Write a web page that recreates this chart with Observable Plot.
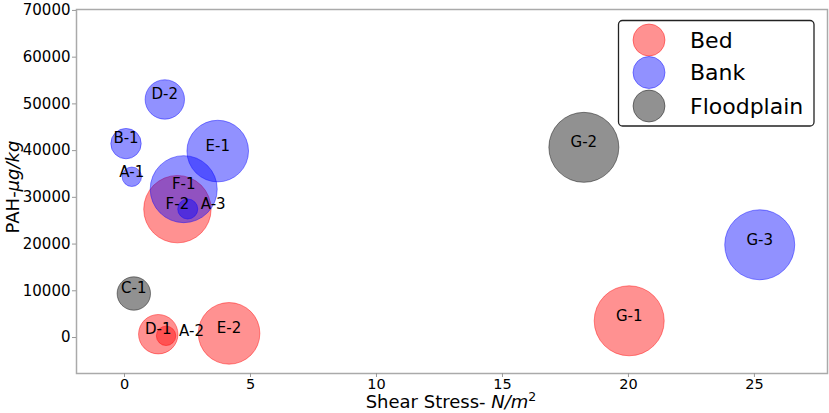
<!DOCTYPE html>
<html><head><meta charset="utf-8">
<script src="https://cdn.jsdelivr.net/npm/d3@7"></script>
<script src="https://cdn.jsdelivr.net/npm/@observablehq/plot@0.6"></script>
<style>body{margin:0;background:#fff;} svg{font-family:"DejaVu Sans",sans-serif;}</style>
</head><body><div id="chart"></div>
<script>
// Data
const categories = ["Bed", "Bank", "Floodplain"];
const sites = ["A-1","A-2","A-3","B-1","C-1","D-1","D-2","E-1","E-2","F-1","F-2","G-1","G-2","G-3"];
const siteTypes = ["Bank","Bed","Bank","Bank","Floodplain","Bed","Bank","Bank","Bed","Bank","Bed","Bed","Floodplain","Bank"];
const shearStress = [0.29,1.65,2.51,0.06,0.37,1.34,1.60,3.70,4.15,2.35,2.10,20.03,18.23,25.21];
const pahValues = [34400,360,27500,41500,9420,710,50950,39900,890,31750,27470,3580,40700,19850];
const bubbleSize = [94,94,100,231,279,388,388,949,949,1122,1135,1225,1225,1225];
const xTicks = [0,5,10,15,20,25];
const yTicks = [0,10000,20000,30000,40000,50000,60000,70000];

const categoryColors = ["red","blue","black"];
const rightLabels = new Set(["A-2","A-3"]);

const data = sites.map((s,i) => ({site:s, type:siteTypes[i], shear:shearStress[i], pah:pahValues[i], size:bubbleSize[i]}));

const plot = Plot.plot({
  width: 829, height: 413,
  marginLeft: 76, marginRight: 2, marginTop: 9, marginBottom: 40,
  style: {fontFamily: "DejaVu Sans, sans-serif", fontSize: "15px", background: "white", color: "black", overflow: "visible"},
  x: {domain: [-1.905, 27.9]},
  y: {domain: [-7700, 70200]},
  r: {type: "sqrt", domain: [0, 1225], range: [0, 35]},
  color: {domain: categories, range: categoryColors},
  marks: [
    Plot.frame({stroke: "#aaa", strokeWidth: 1.5}),
    Plot.axisX({ticks: xTicks, tickSize: 4, tickPadding: 1, stroke: "#999", fill: "black", label: null, fontSize: 14.5}),
    Plot.axisY({ticks: yTicks, tickSize: 4, tickPadding: 2, stroke: "#999", fill: "black", label: null, fontSize: 15, tickFormat: d => String(d)}),
    Plot.dot(data, {x: "shear", y: "pah", r: "size", fill: "type", stroke: "type", fillOpacity: 0.43, strokeOpacity: 0.43, strokeWidth: 1}),
    Plot.text(data, {filter: d => !rightLabels.has(d.site), x: "shear", y: "pah", text: "site", dy: -5, fontSize: 15, fill: "black"}),
    Plot.text(data, {filter: d => rightLabels.has(d.site), x: "shear", y: "pah", text: "site", dy: -5, dx: 13, textAnchor: "start", fontSize: 15, fill: "black"})
  ]
});
document.getElementById("chart").appendChild(plot);

const svg = d3.select(plot);
// Axis labels
const xl = svg.append("text").attr("x", 451).attr("y", 408).attr("text-anchor", "middle")
  .attr("font-size", 18).attr("fill", "black");
xl.append("tspan").text("Shear Stress- ");
xl.append("tspan").attr("font-style", "italic").text("N/m");
xl.append("tspan").attr("font-size", 12.5).attr("dy", -7).attr("font-style", "normal").text("2");

const yl = svg.append("text").attr("transform", "translate(19,187) rotate(-90)").attr("text-anchor", "middle")
  .attr("font-size", 18).attr("fill", "black");
yl.append("tspan").text("PAH-");
yl.append("tspan").attr("font-style", "italic").text("μg/kg");

// Legend
const lg = svg.append("g");
lg.append("rect").attr("x", 618.5).attr("y", 20.5).attr("width", 195.5).attr("height", 105.5)
  .attr("rx", 4).attr("fill", "white").attr("fill-opacity", 0.8).attr("stroke", "#222").attr("stroke-width", 1.3);
const rowY = [40, 72.5, 106];
categories.forEach((c, i) => {
  lg.append("circle").attr("cx", 649).attr("cy", rowY[i]).attr("r", 16)
    .attr("fill", categoryColors[i]).attr("fill-opacity", 0.43)
    .attr("stroke", categoryColors[i]).attr("stroke-opacity", 0.43);
  lg.append("text").attr("x", 690).attr("y", rowY[i]).attr("dy", "0.35em").attr("text-anchor", "start")
    .attr("font-size", 22).attr("fill", "black").text(c);
});
</script>
</body></html>
